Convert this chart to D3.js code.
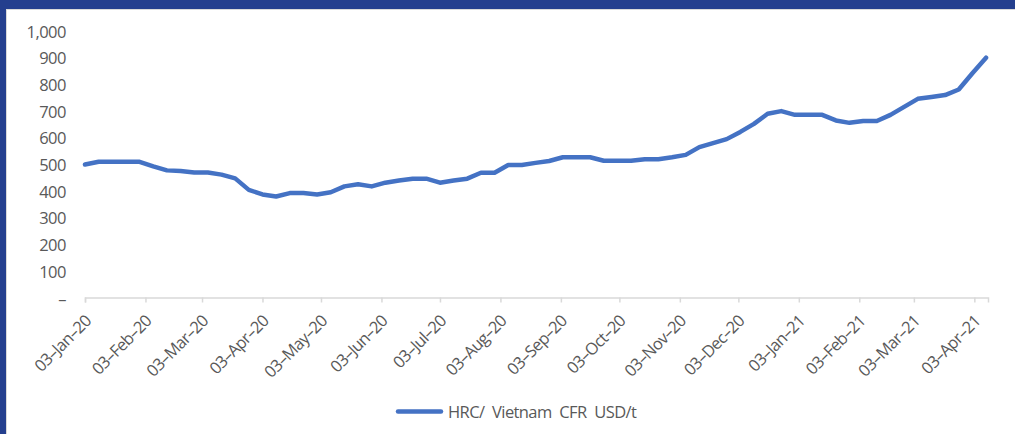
<!DOCTYPE html>
<html>
<head>
<meta charset="utf-8">
<script src="https://cdn.jsdelivr.net/npm/d3@7/dist/d3.min.js"></script>
<style>
  html, body { margin: 0; padding: 0; background: #fff; }
  text { font-family: "Open Sans", "Noto Sans", sans-serif; fill: #595959; }
</style>
</head>
<body>
<div id="chart"></div>
<script>
// weekly HRC price, Vietnam CFR, USD/t (Fridays from 03-Jan-20)
const startDate = '2020-01-03';
const prices = [
  500, 510, 510, 510, 510, 493, 478, 476, 470, 470,
  462, 448, 405, 388, 380, 393, 393, 388, 396, 418,
  426, 418, 432, 440, 447, 447, 432, 440, 447, 469,
  469, 498, 498, 506, 513, 527, 527, 527, 514, 514,
  514, 520, 520, 527, 536, 565, 580, 595, 622, 652,
  690, 700, 686, 686, 686, 665, 656, 663, 663, 686,
  716, 746, 753, 760, 781, 842, 900
];
const yTicks = [0, 100, 200, 300, 400, 500, 600, 700, 800, 900, 1000];
const monthTicks = [
  '2020-01-03', '2020-02-03', '2020-03-03', '2020-04-03', '2020-05-03',
  '2020-06-03', '2020-07-03', '2020-08-03', '2020-09-03', '2020-10-03',
  '2020-11-03', '2020-12-03', '2021-01-03', '2021-02-03', '2021-03-03',
  '2021-04-03'
];
const seriesName = 'HRC/ Vietnam CFR USD/t';

const width = 1015;
const height = 434;
const parse = d3.timeParse('%Y-%m-%d');
const t0 = parse(startDate);
const data = prices.map((v, i) => ({ date: d3.timeDay.offset(t0, i * 7), value: v }));

const svg = d3.select('#chart')
  .append('svg')
  .attr('width', width)
  .attr('height', height);

// frame
svg.append('rect').attr('x', 0).attr('y', 0).attr('width', width).attr('height', height).attr('fill', '#243f8e');
svg.append('rect').attr('x', 6).attr('y', 9).attr('width', width - 6).attr('height', height - 9).attr('fill', '#d9d9d9');
svg.append('rect').attr('x', 7).attr('y', 10).attr('width', width - 7).attr('height', height - 10).attr('fill', '#fff');

const x = d3.scaleTime()
  .domain([t0, parse('2021-04-10')])
  .range([85, 988]);
const y = d3.scaleLinear().domain([0, 1000]).range([298, 31]);

// y axis labels only
const fmt = d3.format(',');
svg.append('g')
  .selectAll('text')
  .data(yTicks)
  .enter()
  .append('text')
  .attr('x', 66)
  .attr('y', d => y(d))
  .attr('text-anchor', 'end')
  .attr('dominant-baseline', 'central')
  .style('font-size', '16.5px')
  .style('letter-spacing', '-0.5px')
  .text(d => d === 0 ? '–' : fmt(d));

// x axis
const xAxis = d3.axisBottom(x)
  .tickValues(monthTicks.map(parse))
  .tickSize(5)
  .tickFormat(d3.timeFormat('%d-%b-%y'));
const gx = svg.append('g')
  .attr('transform', 'translate(0,297.5)')
  .call(xAxis);
gx.select('.domain').attr('stroke', '#d9d9d9').attr('stroke-width', 1.5);
gx.selectAll('.tick line').attr('stroke', '#d9d9d9').attr('stroke-width', 1.5);
gx.selectAll('.tick text')
  .attr('y', 0)
  .attr('dy', null)
  .attr('text-anchor', 'end')
  .attr('dominant-baseline', 'central')
  .attr('transform', 'translate(2,20) rotate(-45)')
  .style('font-size', '16.5px')
  .style('letter-spacing', '-0.7px')
  .style('fill', '#595959')
  .text(d => d3.timeFormat('%d-%b-%y')(d).replace(/-/g, '–'));

// line
const line = d3.line()
  .x(d => x(d.date))
  .y(d => y(d.value));
svg.append('path')
  .datum(data)
  .attr('d', line)
  .attr('fill', 'none')
  .attr('stroke', '#4472c4')
  .attr('stroke-width', 4.5)
  .attr('stroke-linejoin', 'round')
  .attr('stroke-linecap', 'round');

// legend
const lg = svg.append('g').attr('transform', 'translate(398,411.5)');
lg.append('line')
  .attr('x1', 0).attr('x2', 43)
  .attr('stroke', '#4472c4')
  .attr('stroke-width', 4.5)
  .attr('stroke-linecap', 'round');
lg.append('text')
  .attr('x', 50)
  .attr('y', 0)
  .attr('dominant-baseline', 'central')
  .style('font-size', '16.5px')
  .style('letter-spacing', '-0.6px')
  .style('word-spacing', '4px')
  .text(seriesName);
</script>
</body>
</html>
